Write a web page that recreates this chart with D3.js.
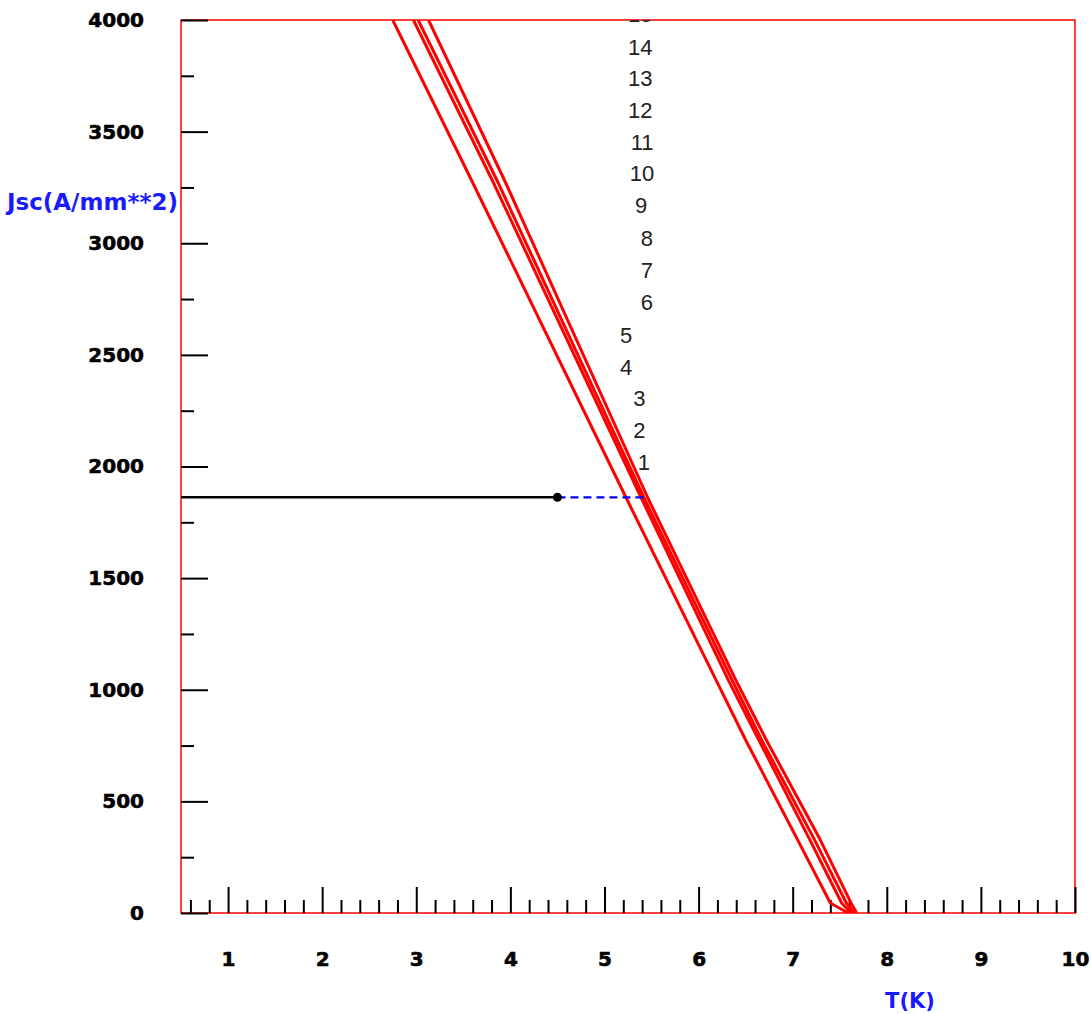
<!DOCTYPE html>
<html>
<head>
<meta charset="utf-8">
<script src="https://cdn.jsdelivr.net/npm/d3@7"></script>
<style>
  body { margin: 0; background: #fff; }
  svg { display: block; }
</style>
</head>
<body>
<div id="container"></div>
<script>
/* CONSTANTS AND GLOBALS */
const width = 1091,
  height = 1014,
  margin = { top: 20, bottom: 101, left: 181, right: 16 };

/* DATA */
// current density levels (A/mm^2) where the curves were read
const jLevels = [4000, 3280, 1860, 1040, 775, 330, 45, 0];
// temperature (K) of each red curve at those levels
const curveA = [2.75, 3.59, 5.23, 6.19, 6.50, 7.05, 7.40, 7.59];
const curveB = [2.97, 3.81, 5.39, 6.32, 6.64, 7.18, 7.52, 7.62];
const curveC = [3.02, 3.86, 5.42, 6.36, 6.67, 7.23, 7.57, 7.65];
const curveD = [3.13, 3.94, 5.46, 6.40, 6.72, 7.29, 7.62, 7.68];
const curves = [curveA, curveB, curveC, curveD];

// curve labels 1..15 (text, T position, J position)
const labelText = ["1", "2", "3", "4", "5", "6", "7", "8", "9", "10", "11", "12", "13", "14", "15"];
const labelT = [5.42, 5.37, 5.37, 5.23, 5.23, 5.45, 5.45, 5.45, 5.39, 5.40, 5.40, 5.38, 5.38, 5.38, 5.38];
const labelJ = [2020, 2164, 2307, 2446, 2589, 2737, 2880, 3024, 3171, 3315, 3454, 3597, 3740, 3879, 4027];

// operating point and its margin to the curves
const opT = 4.5, opJ = 1862, limitT = 5.46;

// tick labels
const xTicks = [1, 2, 3, 4, 5, 6, 7, 8, 9, 10];
const yTicks = [0, 500, 1000, 1500, 2000, 2500, 3000, 3500, 4000];

/* SCALES */
const xScale = d3.scaleLinear()
  .domain([0.5, 10])
  .range([margin.left, width - margin.right]);

const yScale = d3.scaleLinear()
  .domain([0, 4000])
  .range([height - margin.bottom, margin.top]);

/* HTML ELEMENTS */
const svg = d3.select("#container")
  .append("svg")
  .attr("width", width)
  .attr("height", height);

svg.append("clipPath")
  .attr("id", "plot-clip")
  .append("rect")
  .attr("x", margin.left)
  .attr("y", margin.top)
  .attr("width", width - margin.left - margin.right)
  .attr("height", height - margin.top - margin.bottom);

// frame
svg.append("rect")
  .attr("x", margin.left)
  .attr("y", margin.top)
  .attr("width", width - margin.left - margin.right)
  .attr("height", height - margin.top - margin.bottom)
  .attr("fill", "none")
  .attr("stroke", "#ff0000")
  .attr("stroke-width", 1.5);

// minor ticks
const xMinor = d3.range(0.6, 9.9, 0.2).filter(v => Math.abs(v - Math.round(v)) > 0.01);
const yMinor = d3.range(250, 4000, 500);

svg.append("g")
  .attr("transform", `translate(0,${height - margin.bottom})`)
  .call(d3.axisBottom(xScale).tickValues(xMinor).tickSize(-13).tickFormat(""))
  .call(g => g.select(".domain").remove())
  .call(g => g.selectAll("line").attr("stroke", "#000").attr("stroke-width", 2));

svg.append("g")
  .attr("transform", `translate(${margin.left},0)`)
  .call(d3.axisLeft(yScale).tickValues(yMinor).tickSize(-13).tickFormat(""))
  .call(g => g.select(".domain").remove())
  .call(g => g.selectAll("line").attr("stroke", "#000").attr("stroke-width", 2));

// major ticks + labels
const styleLabels = g => g.selectAll("text")
  .attr("fill", "#000")
  .attr("stroke", "#000")
  .attr("stroke-width", 0.6)
  .attr("font-family", "DejaVu Sans")
  .attr("font-weight", "bold")
  .attr("font-size", 20);

svg.append("g")
  .attr("transform", `translate(0,${height - margin.bottom})`)
  .call(d3.axisBottom(xScale).tickValues(xTicks).tickSize(-26).tickPadding(39).tickFormat(d3.format("d")))
  .call(g => g.select(".domain").remove())
  .call(g => g.selectAll("line").attr("stroke", "#000").attr("stroke-width", 2))
  .call(styleLabels);

svg.append("g")
  .attr("transform", `translate(${margin.left},0)`)
  .call(d3.axisLeft(yScale).tickValues(yTicks).tickSize(-27).tickPadding(37).tickFormat(d3.format("d")))
  .call(g => g.select(".domain").remove())
  .call(g => g.selectAll("line").attr("stroke", "#000").attr("stroke-width", 2))
  .call(styleLabels);

// axis titles
svg.append("text")
  .attr("x", margin.left - 3)
  .attr("y", 210)
  .attr("text-anchor", "end")
  .attr("fill", "#1a1aff")
  .attr("font-family", "DejaVu Sans")
  .attr("font-weight", "bold")
  .attr("font-size", 23)
  .text("Jsc(A/mm**2)");

svg.append("text")
  .attr("x", 910)
  .attr("y", 1008)
  .attr("text-anchor", "middle")
  .attr("fill", "#1a1aff")
  .attr("font-family", "DejaVu Sans")
  .attr("font-weight", "bold")
  .attr("font-size", 21)
  .text("T(K)");

/* CURVES */
const plot = svg.append("g").attr("clip-path", "url(#plot-clip)");

const line = d3.line()
  .x(d => xScale(d[0]))
  .y(d => yScale(d[1]));

plot.selectAll("path.curve")
  .data(curves)
  .join("path")
  .attr("class", "curve")
  .attr("d", c => line(c.map((t, i) => [t, jLevels[i]])))
  .attr("fill", "none")
  .attr("stroke", "#ff0000")
  .attr("stroke-width", 3)
  .attr("stroke-linejoin", "round");

plot.selectAll("text.lab")
  .data(labelText)
  .join("text")
  .attr("class", "lab")
  .attr("x", (d, i) => xScale(labelT[i]))
  .attr("y", (d, i) => yScale(labelJ[i]))
  .attr("dy", "0.36em")
  .attr("text-anchor", "middle")
  .attr("fill", "#222")
  .attr("font-family", "Liberation Sans")
  .attr("font-size", 22)
  .text(d => d);

// operating point
svg.append("line")
  .attr("x1", xScale(0.5))
  .attr("x2", xScale(opT))
  .attr("y1", yScale(opJ))
  .attr("y2", yScale(opJ))
  .attr("stroke", "#000")
  .attr("stroke-width", 2.6);

svg.append("line")
  .attr("x1", xScale(opT))
  .attr("x2", xScale(limitT))
  .attr("y1", yScale(opJ))
  .attr("y2", yScale(opJ))
  .attr("stroke", "#0000ff")
  .attr("stroke-width", 2.2)
  .attr("stroke-dasharray", "8,5");

svg.append("circle")
  .attr("cx", xScale(opT))
  .attr("cy", yScale(opJ))
  .attr("r", 4.5)
  .attr("fill", "#000");
</script>
</body>
</html>
